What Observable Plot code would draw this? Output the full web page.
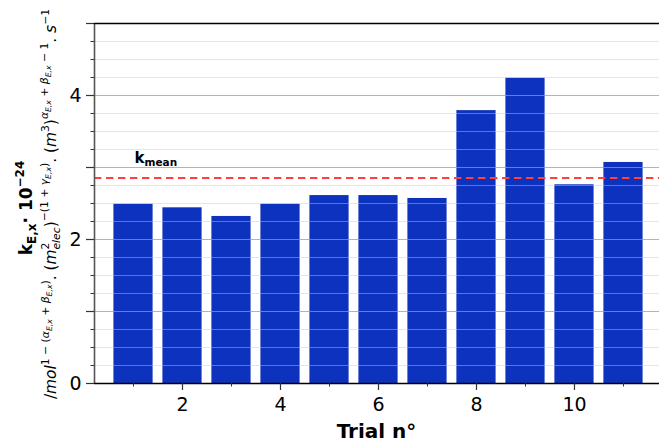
<!DOCTYPE html>
<html><head><meta charset="utf-8">
<script src="https://cdn.jsdelivr.net/npm/d3@7"></script>
<script src="https://cdn.jsdelivr.net/npm/@observablehq/plot@0.6"></script>
<style>body{margin:0;background:#fff}</style>
</head><body><div id="chart"></div>
<script>
// ---- data ----
const trials = [1, 2, 3, 4, 5, 6, 7, 8, 9, 10, 11];
const kValues = [2.49, 2.44, 2.32, 2.49, 2.61, 2.61, 2.57, 3.79, 4.24, 2.76, 3.07];
const xTickLabels = [2, 4, 6, 8, 10];
const xMinorTicks = [1, 3, 5, 7, 9, 11];
const yMajorTicks = [0, 1, 2, 3, 4, 5];
const yTickLabels = [0, 2, 4];
const yMinorTicks = [0.25, 0.5, 0.75, 1.25, 1.5, 1.75, 2.25, 2.5, 2.75, 3.25, 3.5, 3.75, 4.25, 4.5, 4.75];
const xDomain = [0.204, 11.735];
const yDomain = [0, 5];
const xTitle = "Trial n°";
const meanLabelMain = "k";
const meanLabelSub = "mean";

const data = trials.map((t, i) => ({trial: t, value: kValues[i]}));
const kMean = d3.mean(kValues);
const barWidth = 0.8;
const font = "DejaVu Sans";

const svg = Plot.plot({
  width: 659,
  height: 442,
  marginLeft: 94,
  marginRight: 0,
  marginTop: 23,
  marginBottom: 59,
  style: {fontFamily: font, fontSize: "19px", background: "white", color: "#000"},
  x: {domain: xDomain, label: null},
  y: {domain: yDomain, label: null},
  marks: [
    Plot.rectY(data, {x1: d => d.trial - barWidth / 2, x2: d => d.trial + barWidth / 2, y1: 0, y2: "value", fill: "#0c32be"}),
    Plot.ruleY(yMinorTicks, {stroke: "#c8c8c8", strokeOpacity: 0.45, strokeWidth: 1}),
    Plot.ruleY(yMajorTicks.filter(v => v > yDomain[0] && v < yDomain[1]), {stroke: "#999", strokeOpacity: 0.75, strokeWidth: 1.2}),
    Plot.ruleY([kMean], {stroke: "#ff4040", strokeWidth: 2, strokeDasharray: "7.4,4.6"}),
    Plot.text([kMean], {x: () => trials[0], y: d => d, text: () => meanLabelMain, textAnchor: "start", dx: 1, dy: -19.4, fontSize: 15, fontWeight: "bold", fill: "#000"}),
    Plot.text([kMean], {x: () => trials[0], y: d => d, text: () => meanLabelSub, textAnchor: "start", dx: 11, dy: -15, fontSize: 10.5, fontWeight: "bold", fill: "#000"}),
    Plot.ruleX([xDomain[0]], {stroke: "#555", strokeWidth: 1.6}),
    Plot.ruleY([yDomain[1]], {stroke: "#000", strokeWidth: 1.4}),
    Plot.ruleY([yDomain[0]], {stroke: "#000", strokeWidth: 1.4}),
    Plot.axisY(yMajorTicks, {tickSize: 8, tickPadding: 5, stroke: "#333", strokeWidth: 1.2, fill: "#000",
      tickFormat: d => yTickLabels.includes(d) ? String(d) : "", label: null}),
    Plot.axisY(yMinorTicks, {tickSize: 3.5, stroke: "#333", strokeWidth: 1, tickFormat: () => "", label: null}),
    Plot.axisX(xTickLabels, {tickSize: 7, tickPadding: 7, stroke: "#333", strokeWidth: 1.2, fill: "#000",
      tickFormat: d => String(d), label: null}),
    Plot.axisX(xMinorTicks, {tickSize: 3.5, stroke: "#333", strokeWidth: 1, tickFormat: () => "", label: null})
  ]
});
document.getElementById("chart").appendChild(svg);

// ---- axis titles (real text) ----
const root = d3.select(svg);
root.append("text")
  .attr("x", 376.5).attr("y", 438)
  .attr("text-anchor", "middle")
  .attr("font-family", font).attr("font-size", 20).attr("font-weight", "bold").attr("fill", "#000")
  .text(xTitle);

function mathText(x, y, parts) {
  const t = root.append("text")
    .attr("transform", `translate(${x},${y}) rotate(-90)`)
    .attr("text-anchor", "middle")
    .attr("font-family", font).attr("fill", "#000")
    .style("white-space", "pre");
  let cur = 0;
  for (const p of parts) {
    const ts = t.append("tspan").text(p.t).attr("font-size", p.s).attr("dy", -(p.up - cur));
    if (p.i) ts.attr("font-style", "italic");
    if (p.b) ts.attr("font-weight", "bold");
    if (p.dx) ts.attr("dx", p.dx);
    cur = p.up;
  }
}

const F = 15.4, S = 10.8, SS = 7.7;
mathText(32, 208, [
  {t: "k", s: 17, up: 0, b: 1},
  {t: "E,x", s: 12, up: -4, b: 1},
  {t: "· 10", s: 17, up: 0, b: 1},
  {t: "−24", s: 12, up: 8, b: 1}
]);
mathText(56, 204, [
  {t: "/", s: F, up: 0},
  {t: "mol", s: F, up: 0, i: 1},
  {t: "1 − (", s: S, up: 7},
  {t: "α", s: S, up: 7, i: 1},
  {t: "E,x", s: SS, up: 4, i: 1},
  {t: " + ", s: S, up: 7},
  {t: "β", s: S, up: 7, i: 1},
  {t: "E,x", s: SS, up: 4, i: 1},
  {t: ")", s: S, up: 7},
  {t: ". (", s: F, up: 0},
  {t: "m", s: F, up: 0, i: 1},
  {t: "2", s: S, up: 7},
  {t: "elec", s: S, up: -3.5, i: 1, dx: -6.9},
  {t: ")", s: F, up: 0},
  {t: "−(1 + ", s: S, up: 8},
  {t: "γ", s: S, up: 8, i: 1},
  {t: "E,x", s: SS, up: 5, i: 1},
  {t: ")", s: S, up: 8},
  {t: ". (", s: F, up: 0},
  {t: "m", s: F, up: 0, i: 1},
  {t: "3", s: S, up: 7},
  {t: ")", s: F, up: 0},
  {t: "α", s: S, up: 8, i: 1},
  {t: "E,x", s: SS, up: 5, i: 1},
  {t: " + ", s: S, up: 8},
  {t: "β", s: S, up: 8, i: 1},
  {t: "E,x", s: SS, up: 5, i: 1},
  {t: " − 1", s: S, up: 8},
  {t: ". ", s: F, up: 0},
  {t: "s", s: F, up: 0, i: 1},
  {t: "−1", s: S, up: 7}
]);
</script>
</body></html>
